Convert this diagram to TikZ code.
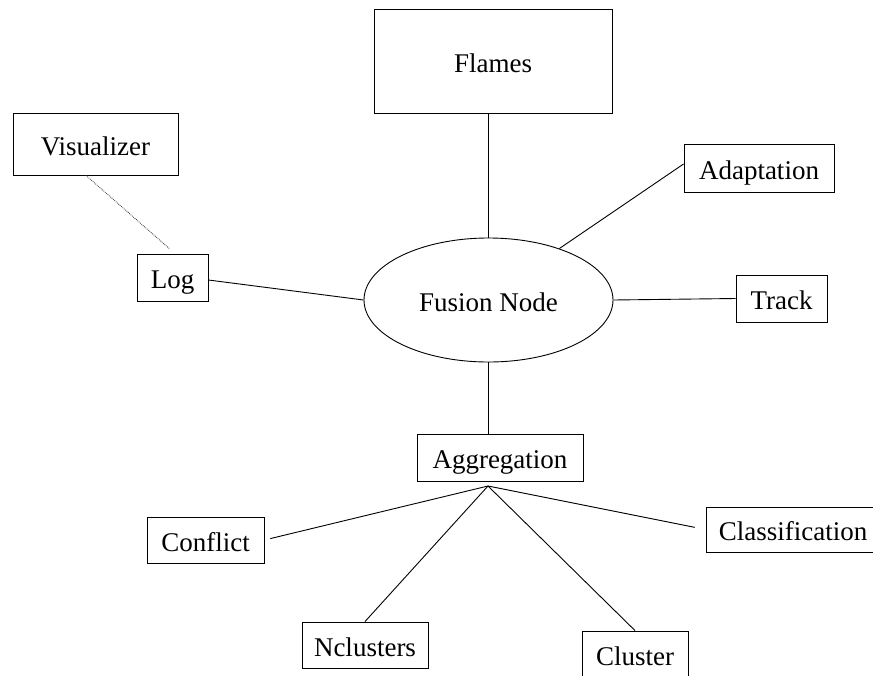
\documentclass[tikz,border=0pt]{standalone}
\usepackage{fontspec}
\setmainfont{Liberation Serif}
\usetikzlibrary{calc,shapes.geometric}
\begin{document}
\begin{tikzpicture}[x=1pt,y=-1pt,
  every node/.style={font=\fontsize{27}{32}\selectfont, inner sep=0pt, text height=22pt, text depth=0pt},
  box/.style={draw, line width=0.9pt, rectangle},
  link/.style={line width=0.9pt},
  dotlink/.style={line width=0.8pt, densely dotted, black!80}]
\clip (0,0) rectangle (873,675);
\fill[white] (0,0) rectangle (873,675);
% nodes
\node[box, minimum width=238, minimum height=104] (flames) at (493,61) {Flames};
\node[box, minimum width=165, minimum height=62] (vis) at (95.5,144) {Visualizer};
\node[box, minimum width=71, minimum height=47] (log) at (172.5,277.5) {Log};
\node[box, minimum width=150, minimum height=48] (adapt) at (759,168) {Adaptation};
\node[box, minimum width=91, minimum height=47] (track) at (781.5,298.5) {Track};
\node[draw, line width=0.9pt, ellipse, minimum width=249, minimum height=124] (fusion) at (488.5,300) {Fusion Node};
\node[box, minimum width=166, minimum height=47] (agg) at (500,457.5) {Aggregation};
\node[box, minimum width=117, minimum height=46] (conflict) at (205.5,540) {Conflict};
\node[box, minimum width=174, minimum height=45] (class) at (793,529.5) {Classification};
\node[box, minimum width=126, minimum height=46] (ncl) at (365,645) {Nclusters};
\node[box, minimum width=106, minimum height=46] (cluster) at (635,654) {Cluster};
\coordinate (apex) at (488,486);
% connectors
\draw[link] (fusion.north) -- (fusion.north |- flames.south);
\draw[link] (fusion.36) -- ($(adapt.west)+(0,-4)$);
\draw[link] (fusion.east) -- (track.west);
\draw[link] ($(log.east)+(0,2.5)$) -- (fusion.west);
\draw[dotlink, shorten >=7pt] ($(vis.south)+(-9.5,0)$) -- ($(log.north)+(2.5,0)$);
\draw[link] (fusion.south) -- (fusion.south |- agg.north);
\draw[link, shorten >=6pt] (apex) -- (conflict.east);
\draw[link, shorten >=11pt] (apex) -- (class.west);
\draw[link] (apex) -- (ncl.north);
\draw[link] (apex) -- (cluster.north);
\end{tikzpicture}
\end{document}
